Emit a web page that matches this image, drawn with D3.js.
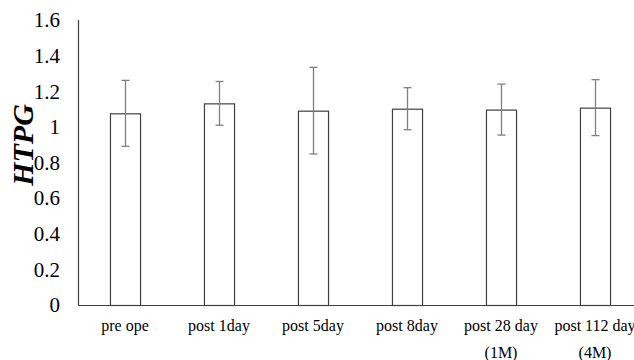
<!DOCTYPE html>
<html>
<head>
<meta charset="utf-8">
<script src="https://cdn.jsdelivr.net/npm/d3@7"></script>
<style>
  html, body { margin: 0; padding: 0; background: #fff; }
  svg text { font-family: "Liberation Serif", "Times New Roman", serif; fill: #000; }
</style>
</head>
<body>
<svg id="chart" width="634" height="360"></svg>
<script>
// HTPG bar chart with error bars
const categories = ['pre ope', 'post 1day', 'post 5day', 'post 8day', 'post 28 day|(1M)', 'post 112 day|(4M)'];
const means  = [1.076, 1.132, 1.091, 1.102, 1.097, 1.108];
const errors = [0.185, 0.123, 0.243, 0.118, 0.143, 0.157];
const yTicks = [0, 0.2, 0.4, 0.6, 0.8, 1, 1.2, 1.4, 1.6];

const data = categories.map((c, i) => ({ cat: c, mean: means[i], err: errors[i] }));

const svg = d3.select('#chart');
const mLeft = 78, mRight = 642, mTop = 20, mBottom = 305;

const x = d3.scaleBand().domain(categories).range([mLeft, mRight]);
const y = d3.scaleLinear().domain([0, 1.6]).range([mBottom, mTop]);
const barW = x.step() * 0.32;

// y tick labels (no tick marks)
svg.append('g')
  .selectAll('text')
  .data(yTicks)
  .join('text')
  .attr('x', mLeft - 18)
  .attr('y', d => y(d))
  .attr('dy', '0.35em')
  .attr('text-anchor', 'end')
  .style('font-size', '21px')
  .text(d => d);

// bars
svg.append('g')
  .selectAll('rect')
  .data(data)
  .join('rect')
  .attr('x', d => x(d.cat) + x.step() / 2 - barW / 2 + 0.5)
  .attr('y', d => y(d.mean) + 0.5)
  .attr('width', barW)
  .attr('height', d => y(0) - y(d.mean))
  .attr('fill', '#fff')
  .attr('stroke', '#404040')
  .attr('stroke-width', 1.2);

// error bars
const eb = svg.append('g').attr('stroke', '#808080').attr('stroke-width', 1.3);
data.forEach(d => {
  const cx = Math.round(x(d.cat) + x.step() / 2) + 0.5;
  const y1 = y(d.mean + d.err), y2 = y(d.mean - d.err);
  eb.append('line').attr('x1', cx).attr('x2', cx).attr('y1', y1).attr('y2', y2);
  eb.append('line').attr('x1', cx - 4).attr('x2', cx + 4).attr('y1', y1).attr('y2', y1);
  eb.append('line').attr('x1', cx - 4).attr('x2', cx + 4).attr('y1', y2).attr('y2', y2);
});

// axes lines
svg.append('line')
  .attr('x1', mLeft + 0.5).attr('x2', mLeft + 0.5)
  .attr('y1', mTop).attr('y2', mBottom)
  .attr('stroke', '#404040').attr('stroke-width', 1.2);
svg.append('line')
  .attr('x1', mLeft).attr('x2', 634)
  .attr('y1', mBottom + 0.5).attr('y2', mBottom + 0.5)
  .attr('stroke', '#404040').attr('stroke-width', 1.2);

// x labels, two lines where needed
const xl = svg.append('g')
  .selectAll('text')
  .data(categories)
  .join('text')
  .attr('x', d => x(d) + x.step() / 2)
  .attr('y', 331)
  .attr('text-anchor', 'middle')
  .style('font-size', '16px');
xl.each(function(d) {
  const parts = d.split('|');
  const t = d3.select(this);
  parts.forEach((p, i) => {
    t.append('tspan')
      .attr('x', t.attr('x'))
      .attr('dy', i === 0 ? 0 : 27)
      .text(p);
  });
});

// y axis title
svg.append('text')
  .attr('transform', 'translate(33,145) rotate(-90)')
  .attr('text-anchor', 'middle')
  .style('font-size', '30px')
  .style('font-weight', 'bold')
  .style('font-style', 'italic')
  .text('HTPG');
</script>
</body>
</html>
